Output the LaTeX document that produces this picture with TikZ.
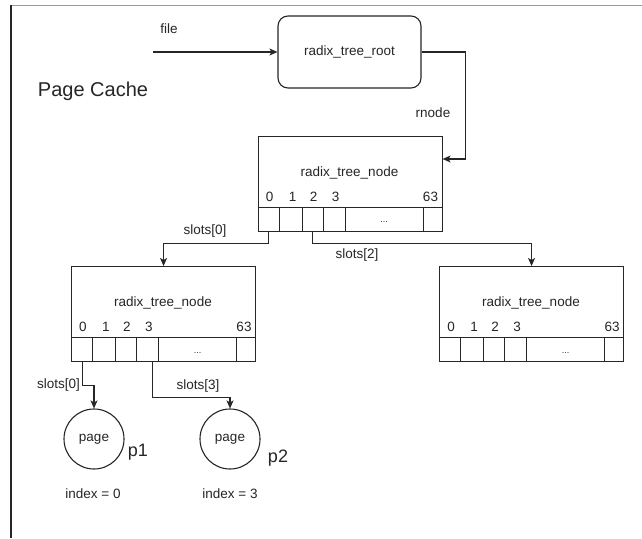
\documentclass[tikz,border=0pt]{standalone}
\usepackage{fontspec}
\setmainfont{Liberation Sans}
\usetikzlibrary{arrows.meta,calc}
\definecolor{ink}{HTML}{262626}
\definecolor{framegray}{HTML}{9A9A9A}
\tikzset{
  line/.style={draw=ink, line width=1.1pt},
  arr/.style={line, -{Stealth[length=8pt,width=7pt,inset=2pt]}},
  rbox/.style={line, rectangle, inner sep=0pt, minimum width=184pt, minimum height=95pt, anchor=north west},
  cell/.style={line, rectangle, inner sep=0pt, minimum height=24pt, anchor=north west},
  txt/.style={font=\fontsize{13.5}{16}\selectfont, text=ink, inner sep=1pt},
  bigtxt/.style={font=\fontsize{20}{24}\selectfont, text=ink, inner sep=1pt},
  ptxt/.style={font=\fontsize{18}{22}\selectfont, text=ink, inner sep=1pt},
  dots/.style={font=\fontsize{9}{10}\selectfont, text=ink, inner sep=0pt},
  pagec/.style={line, circle, minimum size=60pt, inner sep=0pt, font=\fontsize{13.5}{16}\selectfont, text=ink},
  rootbox/.style={line, rectangle, rounded corners=10pt, minimum width=143pt, minimum height=72pt, inner sep=0pt, font=\fontsize{13.5}{16}\selectfont, text=ink},
}
\newcommand\RadixNode[3]{%
  \node[rbox] (#1) at (#2,#3) {};
  \node[txt] (#1t) at ($(#1.north west)+(92,37)$) {radix\_tree\_node};
  \node[txt] (#1d0) at ($(#1.north west)+(12,61)$) {0};
  \node[txt] (#1d1) at ($(#1.north west)+(35,61)$) {1};
  \node[txt] (#1d2) at ($(#1.north west)+(56,61)$) {2};
  \node[txt] (#1d3) at ($(#1.north west)+(78,61)$) {3};
  \node[txt] (#1d63) at ($(#1.north west)+(173,61)$) {63};
  \node[cell, minimum width=21pt] (#1s0) at ($(#1.north west)+(0,71)$) {};
  \node[cell, minimum width=23pt] (#1s1) at ($(#1.north west)+(21,71)$) {};
  \node[cell, minimum width=21pt] (#1s2) at ($(#1.north west)+(44,71)$) {};
  \node[cell, minimum width=22pt] (#1s3) at ($(#1.north west)+(65,71)$) {};
  \node[cell, minimum width=78pt] (#1s4) at ($(#1.north west)+(87,71)$) {};
  \node[cell, minimum width=19pt] (#1s5) at ($(#1.north west)+(165,71)$) {};
  \node[dots] (#1dots) at ($(#1s4.center)+(0,3)$) {...};
}
\begin{document}
\begin{tikzpicture}[x=1pt,y=-1pt]
\useasboundingbox (0,0) rectangle (642,538);
\fill[white] (0,0) rectangle (642,538);
% frame
\draw[framegray, line width=1pt] (11,5) -- (642,5);
\draw[ink, line width=1.5pt] (11,5) -- (11,538);

% root
\node[rootbox] (root) at (349.5,52) {radix\_tree\_root};
\coordinate (filein) at (153,52);
\draw[arr] (filein) -- (root.west);
\node[txt] (filelbl) at (169,29) {file};
\node[bigtxt] (title) at (93,91) {Page Cache};

% radix tree nodes
\RadixNode{n1}{257.5}{135.5}
\RadixNode{n2}{71}{266}
\RadixNode{n3}{439}{266}

% root -> n1
\draw[arr] (root.east) -- ++(44,0) |- ($(n1.north east)+(0,23.5)$);
\node[txt] (rnodelbl) at (433,113) {rnode};

% n1 -> n2, n3
\draw[arr] (n1s0.south) -- ++(0,12) -| (n2.north);
\node[txt] (l0) at (205,231) {slots[0]};
\draw[arr] (n1s2.south) -- ++(0,12) -| (n3.north);
\node[txt] (l2) at (357,255) {slots[2]};

% pages
\node[pagec] (p1) at (94,439) {page};
\node[pagec] (p2) at (230,439) {page};
\node[ptxt] (p1lbl) at (138,452) {p1};
\node[ptxt] (p2lbl) at (278,458) {p2};
\node[txt] (i0) at (93,494) {index = 0};
\node[txt] (i3) at (230,494) {index = 3};

\draw[arr] (n2s0.south) -- ++(0,23) -| (p1.north);
\node[txt, anchor=east] (l20) at (81,385) {slots[0]};
\draw[arr] ([xshift=5pt]n2s3.south) -- ++(0,35) -| (p2.north);
\node[txt] (l23) at (198,386) {slots[3]};
\end{tikzpicture}
\end{document}
